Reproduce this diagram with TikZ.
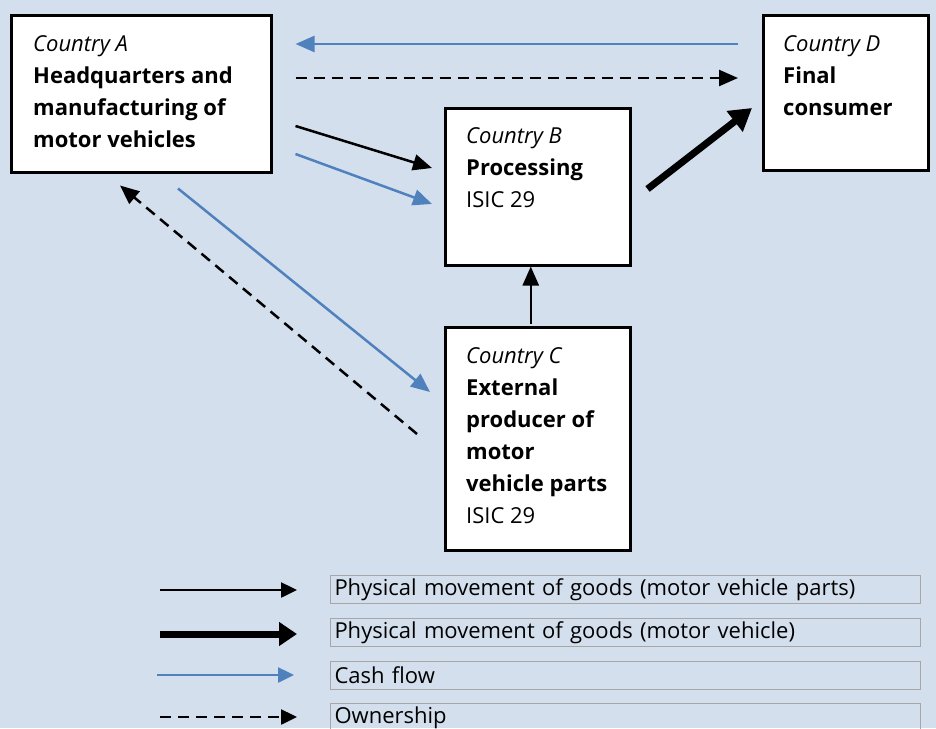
\documentclass[tikz,border=0pt]{standalone}
\usepackage{fontspec}
\setmainfont{Open Sans}
\usetikzlibrary{arrows.meta,calc}
\definecolor{bgblue}{HTML}{D4DFEE}
\definecolor{cashblue}{HTML}{4F81BD}
\definecolor{legbox}{HTML}{A6A6A6}
\begin{document}
\begin{tikzpicture}[x=1pt,y=-1pt,
  box/.style={draw=black,line width=2.5pt,fill=white,inner sep=0pt,anchor=north west},
  boxtext/.style={anchor=north west,inner sep=0pt,align=left,font=\fontsize{22}{32}\selectfont},
  goods/.style={draw=black,line width=2.5pt,-{Triangle[length=19pt,width=16pt]}},
  vehicle/.style={draw=black,line width=7pt,-{Triangle[length=22pt,width=25pt]}},
  cash/.style={draw=cashblue,line width=2.5pt,-{Triangle[length=19pt,width=16pt]}},
  owner/.style={draw=black,line width=2.5pt,dash pattern=on 11pt off 7pt,-{Triangle[length=19pt,width=16pt]}},
  legtext/.style={draw=legbox,line width=1pt,anchor=north west,minimum height=28pt,text width=582pt,inner xsep=4pt,inner ysep=0pt,align=left,font=\fontsize{22}{26}\selectfont},
]
\fill[bgblue] (0,0) rectangle (936,728);
\useasboundingbox (0,0) rectangle (936,728);

% boxes
\node[box,minimum width=260pt,minimum height=157pt] (A) at (10,14) {};
\node[box,minimum width=165pt,minimum height=155pt] (D) at (762,14) {};
\node[box,minimum width=185pt,minimum height=157pt] (B) at (444,107) {};
\node[box,minimum width=185pt,minimum height=223pt] (C) at (444,326) {};

\node[boxtext] (At) at (33,29) {\strut\textit{Country A}\\\textbf{Headquarters and}\\\textbf{manufacturing of}\\\textbf{motor vehicles}};
\node[boxtext] (Dt) at (783,29) {\strut\textit{Country D}\\\textbf{Final}\\\textbf{consumer}};
\node[boxtext] (Bt) at (466,121) {\strut\textit{Country B}\\\textbf{Processing}\\ISIC 29};
\node[boxtext] (Ct) at (466,341) {\strut\textit{Country C}\\\textbf{External}\\\textbf{producer of}\\\textbf{motor}\\\textbf{vehicle parts}\\ISIC 29};

% connector end points
\coordinate (a1) at ($(A.north east)+(23,30)$);
\coordinate (d1) at ($(D.north west)+(-24,30)$);
\coordinate (a2) at ($(A.north east)+(23,64)$);
\coordinate (d2) at ($(D.north west)+(-24,64)$);
\coordinate (a3) at ($(A.north east)+(23,112)$);
\coordinate (b3) at ($(B.north west)+(-12,61)$);
\coordinate (a4) at ($(A.north east)+(23,140)$);
\coordinate (b4) at ($(B.north west)+(-12,97)$);
\coordinate (b5) at ($(B.north east)+(16,82)$);
\coordinate (d5) at ($(D.north west)+(-10,94)$);
\coordinate (c6) at ($(C.north)+(-7,-2)$);
\coordinate (b6) at ($(B.south)+(-7,0)$);
\coordinate (a7) at ($(A.south west)+(168,15)$);
\coordinate (c7) at ($(C.north west)+(-14,66)$);
\coordinate (c8) at ($(C.north west)+(-27,108)$);
\coordinate (a8) at ($(A.south west)+(110,12)$);

\draw[cash] (d1) -- (a1);
\draw[owner] (a2) -- (d2);
\draw[goods] (a3) -- (b3);
\draw[cash] (a4) -- (b4);
\draw[vehicle] (b5) -- (d5);
\draw[goods] (c6) -- (b6);
\draw[cash] (a7) -- (c7);
\draw[owner] (c8) -- (a8);

% legend
\coordinate (l1s) at (160,590); \coordinate (l1e) at (297,590);
\coordinate (l2s) at (160,634); \coordinate (l2e) at (297,634);
\coordinate (l3s) at (157,675); \coordinate (l3e) at (294,675);
\coordinate (l4s) at (160,717); \coordinate (l4e) at (297,717);
\draw[goods,-{Triangle[length=16pt,width=15pt]}] (l1s) -- (l1e);
\draw[vehicle,-{Triangle[length=18pt,width=23pt]}] (l2s) -- (l2e);
\draw[cash,-{Triangle[length=16pt,width=15pt]}] (l3s) -- (l3e);
\draw[owner,-{Triangle[length=16pt,width=15pt]}] (l4s) -- (l4e);

\node[legtext] (L1) at (330,575) {Physical movement of goods (motor vehicle parts)};
\node[legtext] (L2) at (330,618) {Physical movement of goods (motor vehicle)};
\node[legtext] (L3) at (330,661) {Cash flow};
\node[legtext] (L4) at (330,703) {Ownership};
\end{tikzpicture}
\end{document}
